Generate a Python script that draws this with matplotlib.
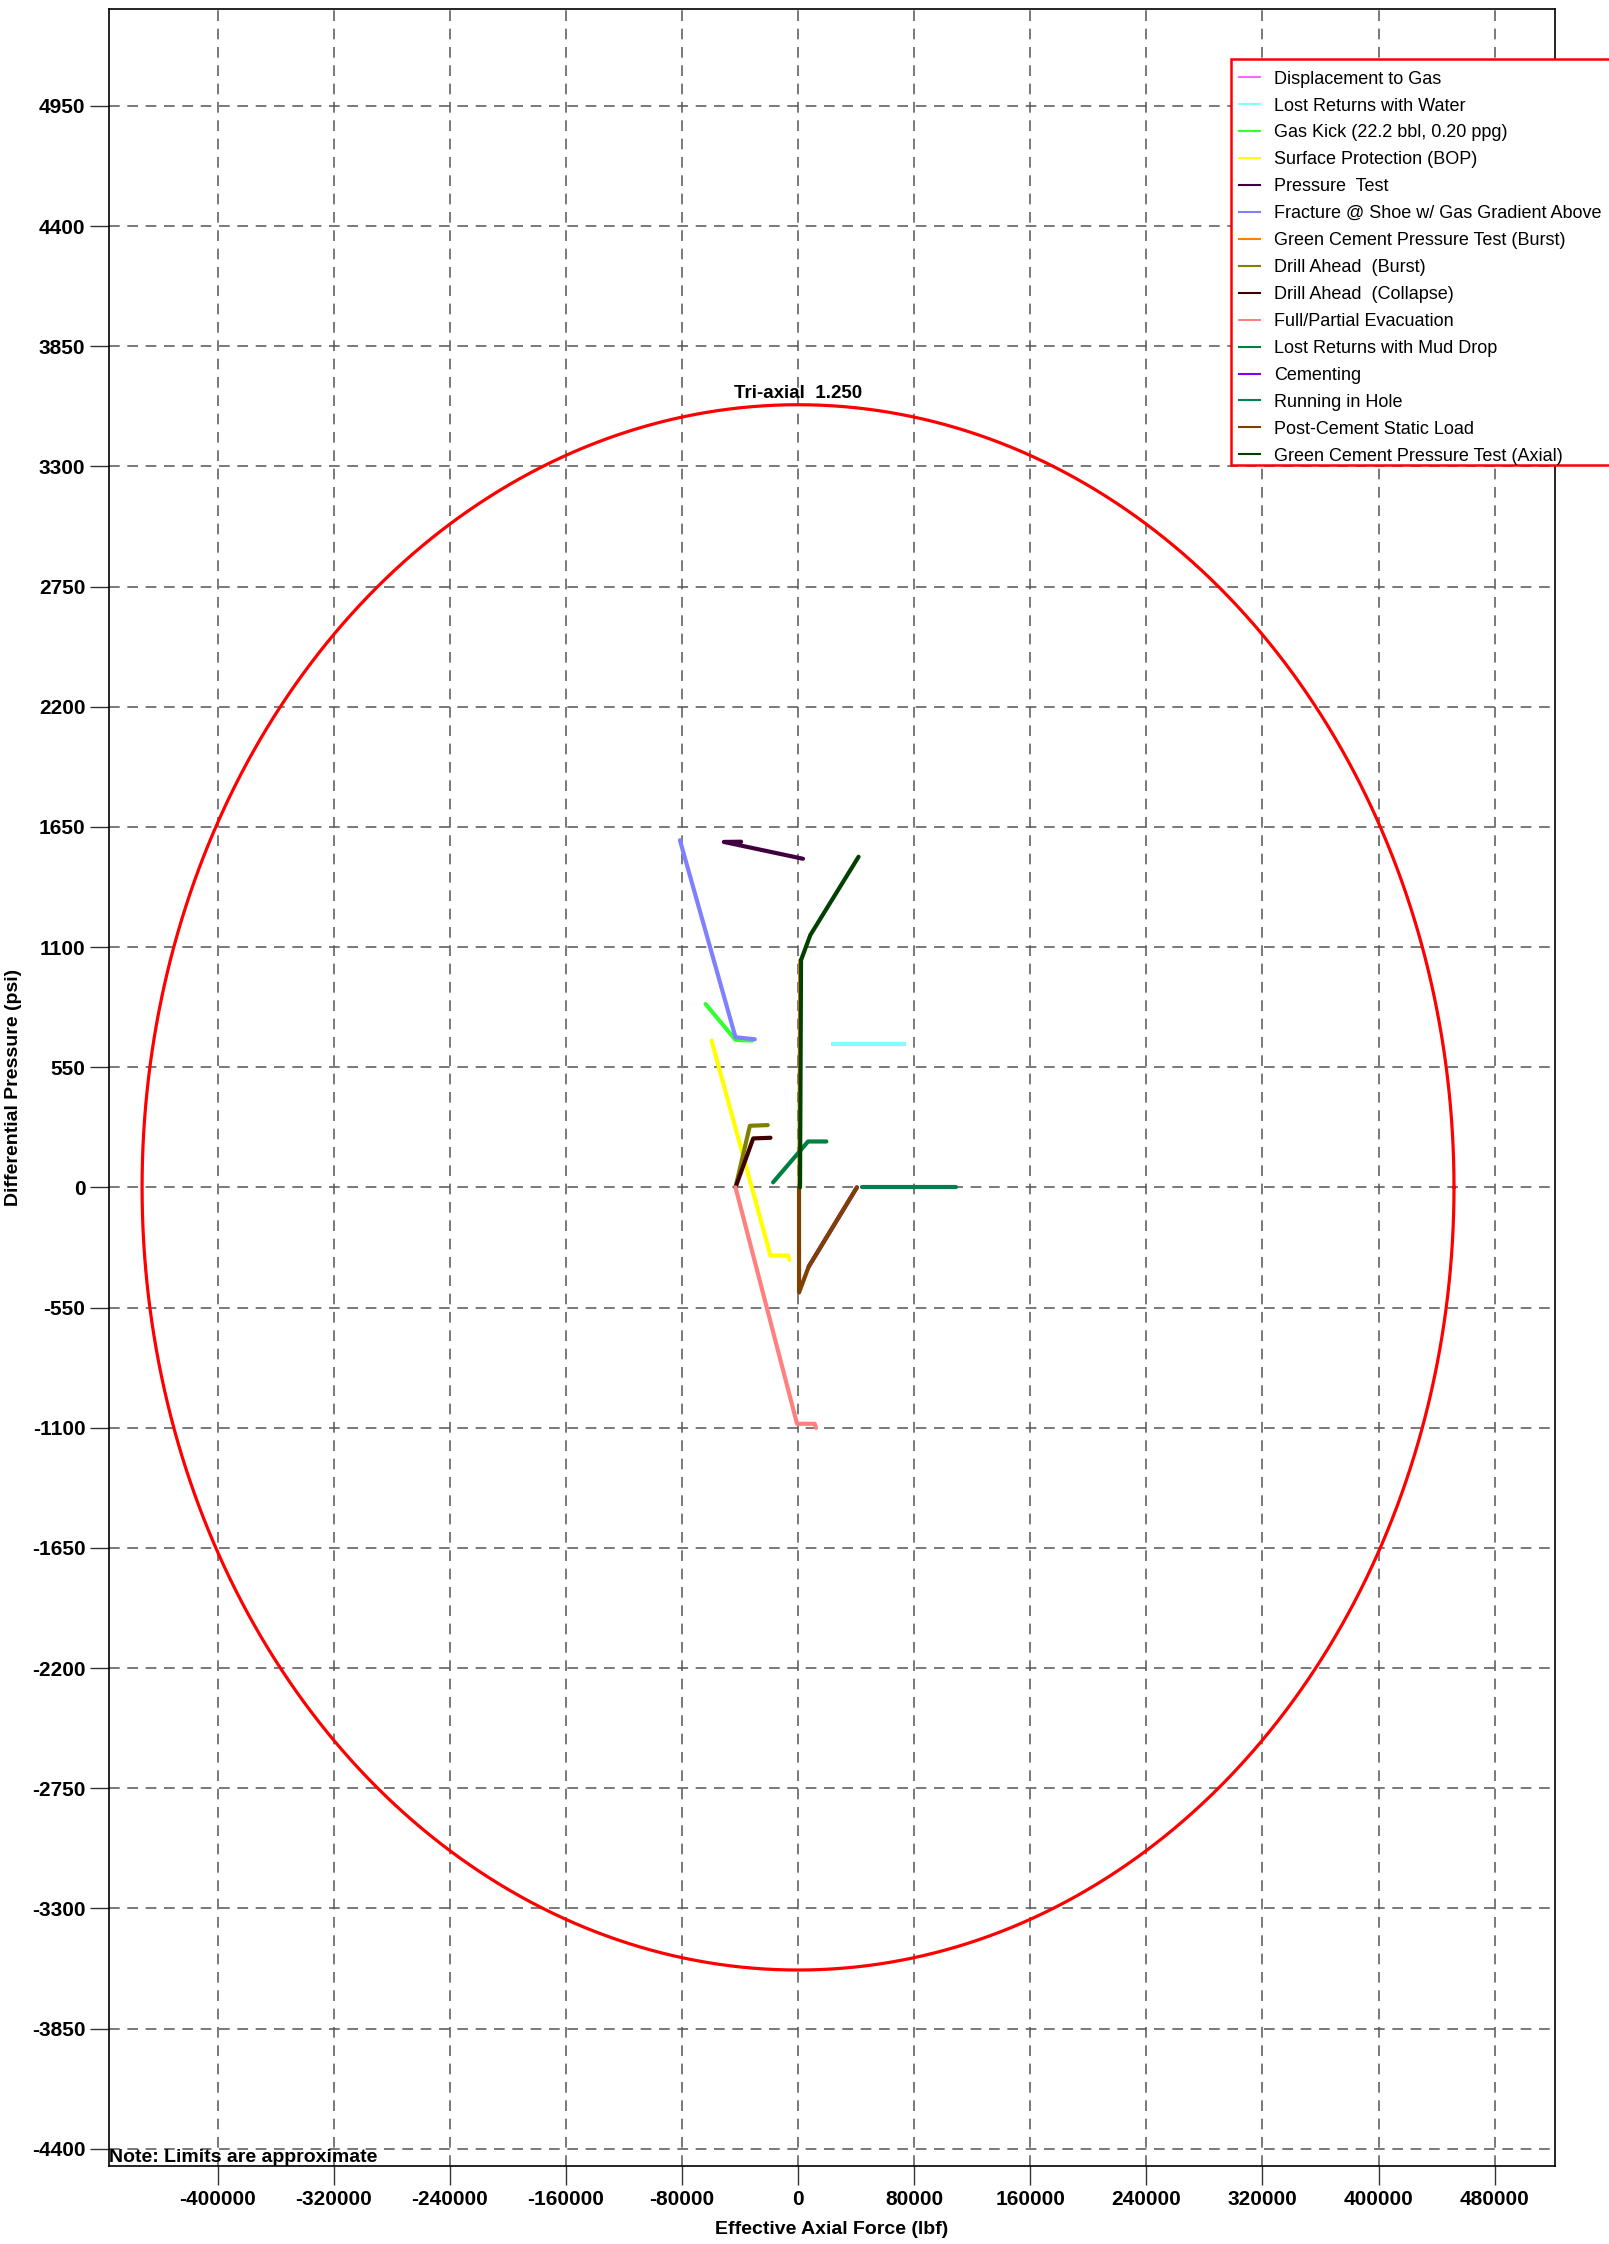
import numpy as np
import matplotlib
matplotlib.use("Agg")
import matplotlib.pyplot as plt
from matplotlib.lines import Line2D
from matplotlib.patches import Rectangle

plt.rcParams['font.family'] = ['Liberation Sans', 'DejaVu Sans']

# ---------------- data ----------------
series_names = [
    "Displacement to Gas",
    "Lost Returns with Water",
    "Gas Kick (22.2 bbl, 0.20 ppg)",
    "Surface Protection (BOP)",
    "Pressure  Test",
    "Fracture @ Shoe w/ Gas Gradient Above",
    "Green Cement Pressure Test (Burst)",
    "Drill Ahead  (Burst)",
    "Drill Ahead  (Collapse)",
    "Full/Partial Evacuation",
    "Lost Returns with Mud Drop",
    "Cementing",
    "Running in Hole",
    "Post-Cement Static Load",
    "Green Cement Pressure Test (Axial)",
]
series_colors = ["#FF66FF", "#80FFFF", "#33FF33", "#FFFF00", "#400040", "#8080FF",
                 "#FF8000", "#808000", "#400000", "#FF8080", "#008040", "#8000FF",
                 "#008050", "#804000", "#004000"]

disp_gas_x = [23800, 73100]
disp_gas_y = [658, 658]
lost_water_x = [23800, 73100]
lost_water_y = [658, 658]
gas_kick_x = [-63700, -43100, -31600]
gas_kick_y = [839, 675, 672]
bop_x = [-59600, -19000, -6900, -6000]
bop_y = [672, -312, -312, -332]
ptest_x = [-39200, -51100, 3400]
ptest_y = [1582, 1581, 1504]
frac_x = [-81400, -43100, -29800]
frac_y = [1589, 687, 678]
gc_burst_x = [900, 1500]
gc_burst_y = [0, 1040]
da_burst_x = [-43100, -33200, -20900]
da_burst_y = [0, 282, 285]
da_coll_x = [-43100, -30900, -19000]
da_coll_y = [0, 224, 227]
evac_x = [-43100, -700, 11500, 12400]
evac_y = [0, -1082, -1082, -1101]
mud_drop_x = [-17200, 6900, 19500]
mud_drop_y = [23, 210, 210]
cementing_x = [7330, 40570]
cementing_y = [-363, 0]
rih_x = [43900, 109000]
rih_y = [0, 0]
post_cem_x = [690, 690, 7330, 40570]
post_cem_y = [0, -481, -363, 0]
gc_axial_x = [1375, 2060, 8480, 41700]
gc_axial_y = [0, 1040, 1155, 1513]

series_x = [disp_gas_x, lost_water_x, gas_kick_x, bop_x, ptest_x, frac_x, gc_burst_x,
            da_burst_x, da_coll_x, evac_x, mud_drop_x, cementing_x, rih_x, post_cem_x, gc_axial_x]
series_y = [disp_gas_y, lost_water_y, gas_kick_y, bop_y, ptest_y, frac_y, gc_burst_y,
            da_burst_y, da_coll_y, evac_y, mud_drop_y, cementing_y, rih_y, post_cem_y, gc_axial_y]

# tri-axial envelope limits
tri_axial_force = 452000
tri_axial_pressure = 3582
tri_label = "Tri-axial  1.250"

x_ticks = [-400000, -320000, -240000, -160000, -80000, 0, 80000, 160000, 240000, 320000, 400000, 480000]
y_ticks = [-4400, -3850, -3300, -2750, -2200, -1650, -1100, -550, 0, 550, 1100, 1650, 2200, 2750, 3300, 3850, 4400, 4950]

# ---------------- figure ----------------
W, H = 1609, 2244
fig = plt.figure(figsize=(W / 100, H / 100), dpi=100)
ax = fig.add_axes([109 / W, 1 - 2166 / H, (1555 - 109) / W, (2166 - 8.6) / H])
ax.set_xlim(-474800, 521600)
ax.set_ylim(-4479, 5395)

ax.set_xticks(x_ticks)
ax.set_yticks(y_ticks)
ax.set_xticklabels([str(v) for v in x_ticks], fontsize=15, fontweight='bold')
ax.set_yticklabels([str(v) for v in y_ticks], fontsize=15, fontweight='bold')
ax.tick_params(axis='both', direction='out', length=14, width=1, color='#333333', pad=3)
ax.grid(True, color='#555555', linestyle=(0, (7, 5)), linewidth=1.1)
for s in ax.spines.values():
    s.set_linewidth(1.2)
    s.set_color('black')

# envelope
t = np.linspace(0, 2 * np.pi, 721)
ax.plot(tri_axial_force * np.cos(t), tri_axial_pressure * np.sin(t), color='#FF0000', lw=2.3, zorder=3)
ax.text(0, tri_axial_pressure + 50, tri_label, ha='center', va='center', fontsize=13.5,
        fontweight='bold', zorder=5)

for name, c, xs, ys in zip(series_names, series_colors, series_x, series_y):
    ax.plot(xs, ys, color=c, lw=3, solid_capstyle='round', solid_joinstyle='round',
            label=name, zorder=4)

ax.set_xlabel("Effective Axial Force (lbf)", fontsize=14, fontweight='bold', labelpad=9)
ax.set_ylabel("Differential Pressure (psi)", fontsize=14, fontweight='bold', labelpad=7)

ax.text(0.0, 0.0, "Note: Limits are approximate", transform=ax.transAxes, ha='left', va='bottom',
        fontsize=14, fontweight='bold', zorder=6)

leg_handles = [Line2D([0], [0], color=c, lw=1.5) for c in series_colors]
leg = fig.legend(leg_handles, series_names, loc='upper left',
                 bbox_to_anchor=(1230.7 / W, 1 - 62.5 / H), fontsize=13,
                 frameon=False,
                 handlelength=1.2, handletextpad=0.75, labelspacing=0.55,
                 borderpad=0.45, borderaxespad=0)
fig.patches.append(Rectangle((1230.7 / W, 1 - 465 / H), (1650 - 1230.7) / W, (465 - 59.3) / H,
                             transform=fig.transFigure, facecolor='white', edgecolor='#FF0000',
                             linewidth=1.8, zorder=0))
leg.set_zorder(10)

fig.savefig("out.png", dpi=100)
